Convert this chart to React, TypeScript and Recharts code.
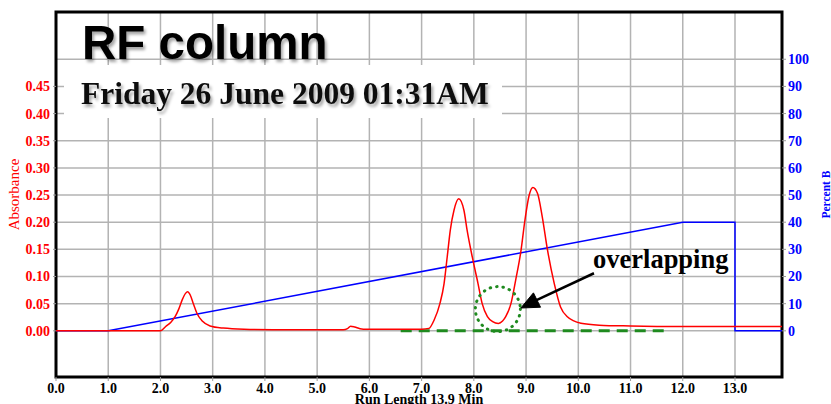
import React from 'react';
import {
  ComposedChart,
  Line,
  XAxis,
  YAxis,
  CartesianGrid,
  ReferenceArea,
  ReferenceDot,
  ReferenceLine,
} from 'recharts';

// Absorbance trace (red), time in minutes
const timeMin = [
  0, 1.0, 2.0, 2.1, 2.2, 2.28, 2.35, 2.42, 2.48, 2.52, 2.57, 2.63, 2.7, 2.8, 2.95, 3.2, 3.6, 4.5, 5.5,
  5.58, 5.64, 5.72, 5.82, 5.95, 6.6, 7.0, 7.14, 7.24, 7.35, 7.43, 7.49, 7.55, 7.62, 7.71, 7.81, 7.87,
  7.97, 8.08, 8.16, 8.26, 8.36, 8.47, 8.55, 8.61, 8.71, 8.8, 8.9, 8.98, 9.06, 9.13, 9.22, 9.31, 9.41,
  9.54, 9.66, 9.79, 10.05, 10.4, 11.0, 12.0, 13.0, 13.9,
];
const absorbance = [
  0, 0, 0, 0.008, 0.016, 0.026, 0.04, 0.058, 0.069, 0.072, 0.066, 0.05, 0.032, 0.018, 0.009, 0.005, 0.003,
  0.002, 0.002, 0.004, 0.0085, 0.007, 0.004, 0.003, 0.003, 0.003, 0.0045, 0.02, 0.05, 0.087, 0.136, 0.186,
  0.222, 0.243, 0.222, 0.186, 0.136, 0.087, 0.05, 0.026, 0.017, 0.0136, 0.018, 0.026, 0.05, 0.093, 0.146,
  0.205, 0.25, 0.264, 0.253, 0.21, 0.149, 0.087, 0.044, 0.026, 0.014, 0.0105, 0.009, 0.008, 0.008, 0.008,
];

// Gradient program (blue), Percent B
const gradientTime = [0, 1.0, 12.0, 13.0, 13.0, 13.9];
const percentB = [0, 0, 40, 40, 0, 0];

// Green dashed baseline
const baselineTime = [6.6, 11.75];
const baselineLevel = [0, 0];

// Tick values
const xTicks = [0, 1, 2, 3, 4, 5, 6, 7, 8, 9, 10, 11, 12, 13];
const absTicks = [0, 0.05, 0.1, 0.15, 0.2, 0.25, 0.3, 0.35, 0.4, 0.45];
const pctTicks = [0, 10, 20, 30, 40, 50, 60, 70, 80, 90, 100];

// Annotation anchors (data coordinates)
const overlapCircle = { t: 8.46, a: 0.04 };
const arrowTail = { t: 10.3, a: 0.106 };
const arrowBase = { t: 9.2, a: 0.0566 };
const arrowTip = { t: 8.9, a: 0.042 };

const absDomain = [-0.085, 0.587];
const pctDomain = [-17, 117.4];
const xDomain = [0, 13.9];

const redData = timeMin.map((t, i) => ({ t, abs: absorbance[i] }));
const blueData = gradientTime.map((t, i) => ({ t, pct: percentB[i] }));
const greenData = baselineTime.map((t, i) => ({ t, base: baselineLevel[i] }));

const serif = '"Liberation Serif", "Times New Roman", serif';
const GREEN = '#1f8a1f';

const ArrowHead = (props: any) => {
  const { cx, cy } = props;
  if (cx == null || cy == null) return <g />;
  const ux = 0.897, uy = -0.443;
  const px = 0.443, py = 0.897;
  const L = 18, W = 8;
  const p1 = `${cx},${cy}`;
  const p2 = `${cx + L * ux + W * px},${cy + L * uy + W * py}`;
  const p3 = `${cx + L * ux - W * px},${cy + L * uy - W * py}`;
  return <polygon points={`${p1} ${p2} ${p3}`} fill="#000" stroke="#000" strokeWidth={1} />;
};

export default function App() {
  return (
    <div style={{ position: 'absolute', left: 0, top: 0, width: 831, height: 404, background: '#fff' }}>
      <ComposedChart
        width={831}
        height={404}
        margin={{ top: 12, right: 0, bottom: 0, left: 0 }}
        style={{ fontFamily: serif }}
      >
        <CartesianGrid
          yAxisId="right"
          xAxisId="x"
          stroke="#b3b3b3"
          strokeWidth={1.5}
        />
        <XAxis
          xAxisId="x"
          dataKey="t"
          type="number"
          domain={xDomain}
          ticks={xTicks}
          allowDataOverflow
          height={27}
          tickSize={4}
          tickMargin={2}
          tickLine={{ stroke: '#999' }}
          axisLine={false}
          tickFormatter={(v: number) => v.toFixed(1)}
          tick={{ fill: '#000', fontSize: 14, fontWeight: 'bold', fontFamily: serif }}
          interval={0}
          label={{
            value: 'Run Length 13.9 Min',
            position: 'insideBottom',
            offset: 0,
            style: { fill: '#000', fontSize: 14, fontWeight: 'bold', fontFamily: serif },
          }}
        />
        <YAxis
          yAxisId="left"
          orientation="left"
          type="number"
          domain={absDomain}
          ticks={absTicks}
          allowDataOverflow
          width={56}
          tickSize={3}
          tickMargin={3}
          tickLine={{ stroke: '#999' }}
          axisLine={false}
          interval={0}
          tickFormatter={(v: number) => v.toFixed(2)}
          tick={{ fill: '#ff0000', fontSize: 14, fontWeight: 'bold', fontFamily: serif }}
          label={{
            value: 'Absorbance',
            angle: -90,
            position: 'insideLeft',
            offset: 14,
            style: { fill: '#ff0000', fontSize: 15, fontWeight: 'normal', fontFamily: serif, textAnchor: 'middle' },
          }}
        />
        <YAxis
          yAxisId="right"
          orientation="right"
          type="number"
          domain={pctDomain}
          ticks={pctTicks}
          allowDataOverflow
          width={49}
          tickSize={4}
          tickMargin={2}
          tickLine={{ stroke: '#999' }}
          axisLine={false}
          interval={0}
          tick={{ fill: '#0000ff', fontSize: 14, fontWeight: 'bold', fontFamily: serif }}
          label={{
            value: 'Percent B',
            angle: -90,
            position: 'insideRight',
            offset: 5,
            style: { fill: '#0000ff', fontSize: 11.5, fontWeight: 'bold', fontFamily: serif, textAnchor: 'middle' },
          }}
        />
        <Line
          xAxisId="x"
          yAxisId="right"
          data={blueData}
          dataKey="pct"
          type="linear"
          stroke="#0000ff"
          strokeWidth={1.5}
          dot={false}
          isAnimationActive={false}
        />
        <Line
          xAxisId="x"
          yAxisId="left"
          data={greenData}
          dataKey="base"
          type="linear"
          stroke={GREEN}
          strokeWidth={3}
          strokeDasharray="11 7"
          dot={false}
          isAnimationActive={false}
        />
        <Line
          xAxisId="x"
          yAxisId="left"
          data={redData}
          dataKey="abs"
          type="monotone"
          stroke="#ff0000"
          strokeWidth={1.5}
          dot={false}
          isAnimationActive={false}
        />
        <ReferenceDot
          xAxisId="x"
          yAxisId="left"
          x={overlapCircle.t}
          y={overlapCircle.a}
          r={22.5}
          fill="none"
          stroke={GREEN}
          strokeWidth={3}
          strokeDasharray="0.5 6"
          strokeLinecap="round"
        />
        <ReferenceLine
          xAxisId="x"
          yAxisId="left"
          segment={[
            { x: arrowTail.t, y: arrowTail.a },
            { x: arrowBase.t, y: arrowBase.a },
          ]}
          stroke="#000"
          strokeWidth={2.5}
        />
        <ReferenceDot
          xAxisId="x"
          yAxisId="left"
          x={arrowTip.t}
          y={arrowTip.a}
          shape={ArrowHead}
        />
        <ReferenceArea
          xAxisId="x"
          yAxisId="left"
          x1={xDomain[0]}
          x2={xDomain[1]}
          y1={absDomain[0]}
          y2={absDomain[1]}
          fill="none"
          fillOpacity={0}
          stroke="#000"
          strokeWidth={3}
          ifOverflow="visible"
        />
      </ComposedChart>
      <svg
        width={831}
        height={404}
        style={{ position: 'absolute', left: 0, top: 0, pointerEvents: 'none' }}
      >
        <defs>
          <filter id="shadow" x="-10%" y="-30%" width="130%" height="170%">
            <feDropShadow dx="2" dy="3" stdDeviation="1.6" floodColor="#000" floodOpacity="0.35" />
          </filter>
        </defs>
        <rect x={64} y={65} width={438} height={53} fill="#fff" />
        <text
          x={82}
          y={59}
          fontFamily='"Liberation Sans", Arial, sans-serif'
          fontWeight="bold"
          fontSize={47.5}
          fill="#000"
          filter="url(#shadow)"
        >
          RF column
        </text>
        <text
          x={81}
          y={104}
          fontFamily={serif}
          fontWeight="bold"
          fontSize={31.5}
          fill="#111"
          filter="url(#shadow)"
        >
          Friday 26 June 2009 01:31AM
        </text>
        <text x={593} y={268} fontFamily={serif} fontWeight="bold" fontSize={26.5} fill="#000">
          overlapping
        </text>
      </svg>
    </div>
  );
}
